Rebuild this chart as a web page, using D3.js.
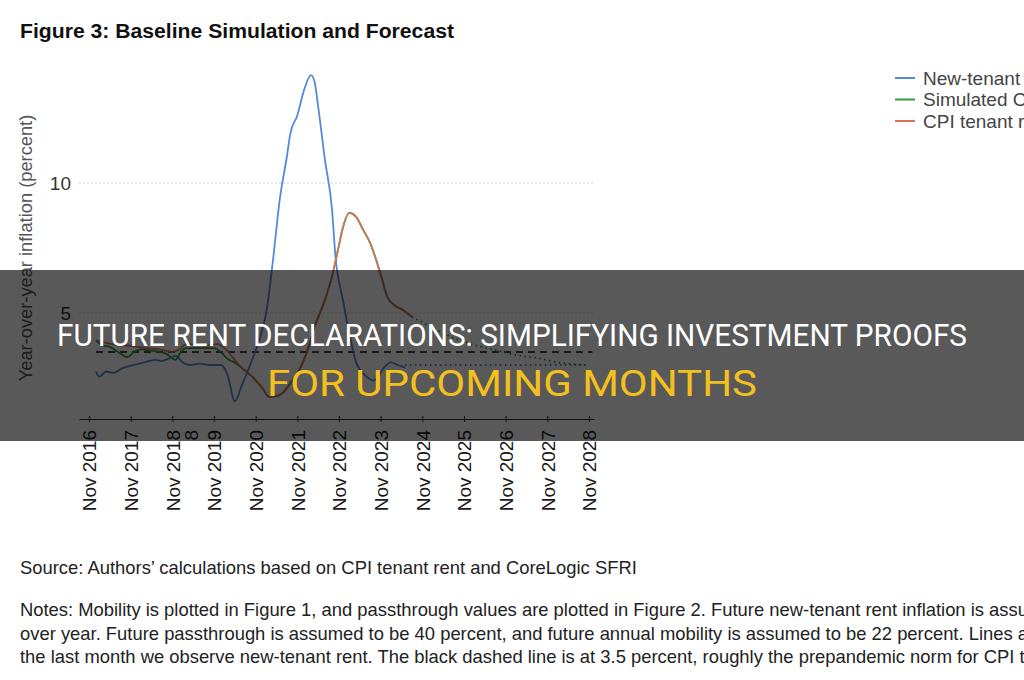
<!DOCTYPE html>
<html>
<head>
<meta charset="utf-8">
<script src="https://cdn.jsdelivr.net/npm/d3@7"></script>
<style>
  html, body { margin: 0; padding: 0; background: #fff; overflow: hidden; }
  svg { display: block; font-family: "Liberation Sans", Arial, sans-serif; }
</style>
</head>
<body>
<div id="chart"></div>
<script>
  // series values (percent, year over year)
  var newTenantDates = ['2017-01','2017-02','2017-04','2017-06','2017-09','2017-12','2018-03','2018-06','2018-08','2018-10','2018-12','2019-02','2019-04','2019-07','2019-10','2020-01','2020-03','2020-05','2020-07','2020-10','2021-01','2021-02','2021-04','2021-06','2021-08','2021-09','2021-11','2022-01','2022-03','2022-04','2022-05','2022-07','2022-09','2022-10','2022-12','2023-02','2023-04','2023-07','2023-09','2023-10','2023-12','2024-02','2024-04','2024-06'];
  var newTenantValues = [2.75,2.55,2.75,2.7,2.9,3.0,3.1,3.2,3.15,3.25,3.35,3.1,3.0,3.05,3.0,3.0,2.6,1.6,2.2,3.2,4.4,5.0,7.0,9.4,11.0,11.9,12.6,13.6,14.15,13.9,13.0,10.9,9.0,7.2,5.6,4.2,3.1,2.55,2.4,2.5,2.9,3.1,3.0,2.9];

  var newTenantFcDates = ['2024-06','2028-10'];
  var newTenantFcValues = [3.0,3.0];

  var cpiDates = ['2017-01','2017-04','2017-07','2017-10','2018-01','2018-04','2018-07','2018-09','2018-11','2019-01','2019-03','2019-06','2019-09','2019-12','2020-02','2020-05','2020-07','2020-10','2021-01','2021-03','2021-05','2021-07','2021-09','2021-12','2022-02','2022-04','2022-07','2022-09','2022-11','2022-12','2023-02','2023-04','2023-06','2023-08','2023-11','2024-01','2024-03','2024-05','2024-08'];
  var cpiValues = [3.95,3.85,3.77,3.75,3.7,3.65,3.6,3.55,3.5,3.6,3.8,3.8,3.75,3.8,3.65,3.2,2.9,2.55,2.1,1.77,1.8,1.95,2.3,2.92,3.6,4.46,5.5,6.4,7.6,8.2,8.85,8.7,8.2,7.7,6.5,5.6,5.3,5.15,4.85];

  var simDates = ['2017-01','2017-03','2017-05','2017-08','2017-10','2017-12','2018-02','2018-05','2018-09','2018-12','2019-01','2019-03','2019-07','2019-11','2020-01','2020-03','2020-05','2020-07','2020-10','2021-01','2021-03','2021-05','2021-07','2021-09','2021-12','2022-02','2022-04','2022-07','2022-09','2022-11','2022-12','2023-02','2023-04','2023-06','2023-08','2023-11','2024-01','2024-03','2024-05','2024-08'];
  var simValues = [3.95,3.75,3.7,3.45,3.3,3.5,3.6,3.55,3.45,3.2,3.4,3.65,3.65,3.65,3.5,3.23,3.1,2.9,2.55,2.1,1.77,1.8,1.95,2.3,2.92,3.6,4.46,5.5,6.4,7.6,8.2,8.85,8.7,8.2,7.7,6.5,5.6,5.3,5.15,4.85];

  var simFcDates = ['2024-08','2025-01','2025-07','2026-02','2026-08','2027-02','2027-08','2028-02','2028-10'];
  var simFcValues = [4.85,4.5,4.1,3.77,3.58,3.38,3.27,3.1,3.0];

  var normLevel = 3.5;
  var yTicks = [5, 10];
  var xTickYears = [2016,2017,2018,2019,2020,2021,2022,2023,2024,2025,2026,2027,2028];

  var legendLabels = ['New-tenant rent inflation', 'Simulated CPI tenant rent', 'CPI tenant rent'];
  var legendColors = ['#5589d9', '#2f9c40', '#d9735f'];

  var parseMonth = d3.timeParse('%Y-%m');

  function toPoints(dates, values) {
    return dates.map(function(d, i) { return { date: parseMonth(d), value: values[i] }; });
  }

  var svg = d3.select('#chart')
    .append('svg')
    .attr('width', 1024)
    .attr('height', 680);

  // title
  svg.append('text')
    .attr('x', 20)
    .attr('y', 38)
    .attr('font-size', 19.5)
    .attr('font-weight', 'bold')
    .attr('fill', '#111')
    .attr('textLength', 434)
    .attr('lengthAdjust', 'spacingAndGlyphs')
    .text('Figure 3: Baseline Simulation and Forecast');

  // scales - Nov 2016 sits at 89px, Nov 2028 at 589px
  var base = d3.scaleTime()
    .domain([new Date(2016, 10, 1), new Date(2028, 10, 1)])
    .range([89, 589]);
  var x = base.copy()
    .domain([base.invert(79), base.invert(594)])
    .range([79, 594]);

  var y = d3.scaleLinear()
    .domain([5, 10])
    .range([313, 183]);

  // dotted grid
  svg.append('g')
    .selectAll('line')
    .data(yTicks)
    .enter()
    .append('line')
    .attr('x1', 79)
    .attr('x2', 595)
    .attr('y1', function(d) { return y(d); })
    .attr('y2', function(d) { return y(d); })
    .attr('stroke', '#cfcfcf')
    .attr('stroke-width', 1.2)
    .attr('stroke-dasharray', '2,2');

  // y tick labels
  svg.append('g')
    .selectAll('text')
    .data(yTicks)
    .enter()
    .append('text')
    .attr('x', 71)
    .attr('y', function(d) { return y(d); })
    .attr('dy', '0.36em')
    .attr('text-anchor', 'end')
    .attr('font-size', 19)
    .attr('fill', '#333')
    .text(function(d) { return d; });

  // y axis title
  svg.append('text')
    .attr('transform', 'translate(32,248) rotate(-90)')
    .attr('text-anchor', 'middle')
    .attr('font-size', 18.3)
    .attr('fill', '#555')
    .text('Year-over-year inflation (percent)');

  // x axis
  var xAxis = d3.axisBottom(x)
    .tickValues(xTickYears.map(function(yr) { return new Date(yr, 10, 1); }))
    .tickSizeInner(4)
    .tickSizeOuter(0)
    .tickFormat(d3.timeFormat('Nov %Y'));

  var gx = svg.append('g')
    .attr('transform', 'translate(0,419)')
    .call(xAxis);

  gx.select('.domain').attr('stroke', '#333').attr('stroke-width', 1.2);
  gx.selectAll('.tick line').attr('stroke', '#333').attr('y1', -3).attr('y2', 3);
  gx.selectAll('.tick text')
    .attr('font-family', '"Liberation Sans", Arial, sans-serif')
    .attr('font-size', 19)
    .attr('fill', '#1a1a1a')
    .attr('transform', 'rotate(-90)')
    .attr('text-anchor', 'end')
    .attr('x', -11)
    .attr('y', 0)
    .attr('dy', '0.36em');

  // stray overlapping label fragment seen next to Nov 2018
  svg.append('text')
    .attr('transform', 'translate(' + (x(new Date(2019, 3, 1)) + 2) + ',430) rotate(-90)')
    .attr('text-anchor', 'end')
    .attr('dy', '0.36em')
    .attr('font-size', 19)
    .attr('fill', '#1a1a1a')
    .text('8');

  var line = d3.line()
    .x(function(d) { return x(d.date); })
    .y(function(d) { return y(d.value); })
    .curve(d3.curveMonotoneX);

  // black dashed prepandemic norm
  svg.append('line')
    .attr('x1', x(parseMonth('2017-01')))
    .attr('x2', x(parseMonth('2028-12')))
    .attr('y1', y(normLevel))
    .attr('y2', y(normLevel))
    .attr('stroke', '#111')
    .attr('stroke-width', 1.3)
    .attr('stroke-dasharray', '7,5');

  // forecasts (dotted)
  svg.append('path')
    .datum(toPoints(newTenantFcDates, newTenantFcValues))
    .attr('d', line)
    .attr('fill', 'none')
    .attr('stroke', legendColors[0])
    .attr('stroke-width', 1.8)
    .attr('stroke-dasharray', '1.5,3.5');

  svg.append('path')
    .datum(toPoints(simFcDates, simFcValues))
    .attr('d', line)
    .attr('fill', 'none')
    .attr('stroke', legendColors[1])
    .attr('stroke-width', 1.8)
    .attr('stroke-dasharray', '1.5,3.5');

  // observed lines
  svg.append('path')
    .datum(toPoints(newTenantDates, newTenantValues))
    .attr('d', line)
    .attr('fill', 'none')
    .attr('stroke', legendColors[0])
    .attr('stroke-width', 1.8);

  svg.append('path')
    .datum(toPoints(simDates, simValues))
    .attr('d', line)
    .attr('fill', 'none')
    .attr('stroke', legendColors[1])
    .attr('stroke-width', 1.8);

  svg.append('path')
    .datum(toPoints(cpiDates, cpiValues))
    .attr('d', line)
    .attr('fill', 'none')
    .attr('stroke', legendColors[2])
    .attr('stroke-width', 1.8)
    .attr('stroke-opacity', 0.9);

  // legend, runs off the right edge like the original
  var legend = svg.append('g')
    .attr('transform', 'translate(895,78)');

  var rows = legend.selectAll('g')
    .data(legendLabels)
    .enter()
    .append('g')
    .attr('transform', function(d, i) { return 'translate(0,' + (i * 21.5) + ')'; });

  rows.append('line')
    .attr('x1', 0)
    .attr('x2', 20)
    .attr('stroke', function(d, i) { return legendColors[i]; })
    .attr('stroke-width', 2);

  rows.append('text')
    .attr('x', 28)
    .attr('dy', '0.36em')
    .attr('font-size', 19)
    .attr('fill', '#444')
    .text(function(d) { return d; });

  // source and notes
  var notes = [
    'Notes: Mobility is plotted in Figure 1, and passthrough values are plotted in Figure 2. Future new-tenant rent inflation is assumed to be 3 percent year',
    'over year. Future passthrough is assumed to be 40 percent, and future annual mobility is assumed to be 22 percent. Lines are dotted after',
    'the last month we observe new-tenant rent. The black dashed line is at 3.5 percent, roughly the prepandemic norm for CPI tenant rent.'
  ];

  svg.append('text')
    .attr('x', 20)
    .attr('y', 574)
    .attr('font-size', 18.4)
    .attr('fill', '#222')
    .text('Source: Authors\u2019 calculations based on CPI tenant rent and CoreLogic SFRI');

  svg.append('g')
    .selectAll('text')
    .data(notes)
    .enter()
    .append('text')
    .attr('x', 20)
    .attr('y', function(d, i) { return 616 + i * 23.5; })
    .attr('font-size', 18.4)
    .attr('fill', '#222')
    .text(function(d) { return d; });

  // dark banner over the middle with the headline
  svg.append('rect')
    .attr('x', 0)
    .attr('y', 270)
    .attr('width', 1024)
    .attr('height', 171)
    .attr('fill', '#000')
    .attr('fill-opacity', 0.65);

  svg.append('text')
    .attr('x', 512)
    .attr('y', 346)
    .attr('text-anchor', 'middle')
    .attr('font-family', 'Roboto, "Open Sans", sans-serif')
    .attr('font-size', 31)
    .attr('fill', '#fff')
    .attr('textLength', 910)
    .attr('lengthAdjust', 'spacingAndGlyphs')
    .text('FUTURE RENT DECLARATIONS: SIMPLIFYING INVESTMENT PROOFS');

  svg.append('text')
    .attr('x', 512)
    .attr('y', 396)
    .attr('text-anchor', 'middle')
    .attr('font-family', 'Roboto, "Open Sans", sans-serif')
    .attr('font-size', 37)
    .attr('fill', '#f4c01e')
    .attr('textLength', 490)
    .attr('lengthAdjust', 'spacingAndGlyphs')
    .text('FOR UPCOMING MONTHS');
</script>
</body>
</html>
